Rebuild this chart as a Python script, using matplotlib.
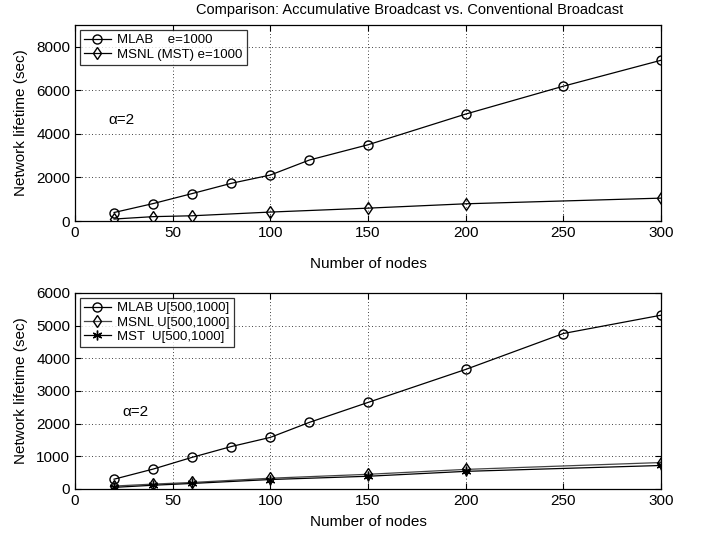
import matplotlib
matplotlib.use('Agg')
import matplotlib.pyplot as plt

plt.rcParams['font.family'] = ['Liberation Sans', 'DejaVu Sans']

# top panel: e=1000
x_mlab = [20, 40, 60, 80, 100, 120, 150, 200, 250, 300]
y_mlab_top = [390, 800, 1260, 1730, 2110, 2800, 3500, 4910, 6190, 7380]
x_msnl = [20, 40, 60, 100, 150, 200, 300]
y_msnl_top = [90, 200, 240, 410, 590, 790, 1050]

# bottom panel: U[500,1000]
y_mlab_bot = [300, 610, 970, 1300, 1580, 2040, 2650, 3660, 4760, 5320]
y_msnl_bot = [90, 150, 200, 330, 450, 600, 810]
y_mst_bot = [50, 115, 170, 290, 390, 540, 720]

xticks = [0, 50, 100, 150, 200, 250, 300]

fig = plt.figure(figsize=(7.05, 5.35), dpi=100)
W, H = 705, 535
ax1 = fig.add_axes([75 / W, 1 - 221 / H, 586 / W, 196 / H])
ax2 = fig.add_axes([75 / W, 1 - 489 / H, 586 / W, 196 / H])

fs = 11
mk = dict(markersize=6.5, markerfacecolor='none', markeredgecolor='black', linewidth=0.9)

ax1.plot(x_mlab, y_mlab_top, '-o', color='black', label='MLAB    e=1000', **mk)
ax1.plot(x_msnl, y_msnl_top, '-d', color='black', label='MSNL (MST) e=1000', **mk)
ax1.set_ylim(0, 9000)
ax1.set_yticks([0, 2000, 4000, 6000, 8000])
ax1.text(17, 4640, 'α=2', fontsize=fs, va='center')

ax2.plot(x_mlab, y_mlab_bot, '-o', color='black', label='MLAB U[500,1000]', **mk)
ax2.plot(x_msnl, y_msnl_bot, '-d', color='#444444', label='MSNL U[500,1000]', **mk)
ax2.plot(x_msnl, y_mst_bot, '-', marker=(6, 2, 0), color='black',
         label='MST  U[500,1000]', markersize=7, linewidth=0.9)
ax2.set_ylim(0, 6000)
ax2.set_yticks([0, 1000, 2000, 3000, 4000, 5000, 6000])
ax2.text(24, 2360, 'α=2', fontsize=fs, va='center')

for ax in (ax1, ax2):
    ax.set_xlim(0, 300)
    ax.set_xticks(xticks)
    ax.grid(True, linestyle=(0, (1, 3)), color='black', linewidth=0.6)
    ax.tick_params(direction='in', top=True, right=True, labelsize=fs, length=4)
    ax.set_ylabel('Network lifetime (sec)', fontsize=fs)
    ax.set_xlabel('Number of nodes', fontsize=fs)
    for s in ax.spines.values():
        s.set_linewidth(0.9)
    leg = ax.legend(loc='upper left', fontsize=9.5, frameon=True, fancybox=False,
                    edgecolor='black', handlelength=2.0, borderpad=0.3,
                    labelspacing=0.15, borderaxespad=0.4, handletextpad=0.5)
    leg.get_frame().set_linewidth(0.9)

ax1.xaxis.labelpad = 12
ax2.xaxis.labelpad = 5
ax1.yaxis.labelpad = 6
ax2.yaxis.labelpad = 6

fig.text(410 / W, 1 - 10 / H, 'Comparison: Accumulative Broadcast vs. Conventional Broadcast',
         ha='center', va='center', fontsize=10.5)

fig.savefig('out.png', dpi=100)
